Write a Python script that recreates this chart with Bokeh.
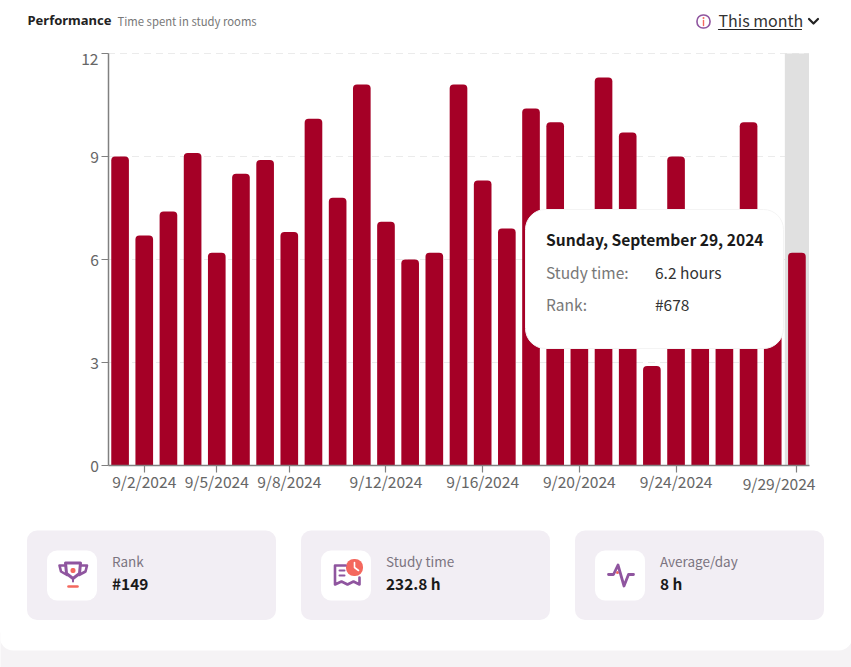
from bokeh.plotting import figure
from bokeh.models import Range1d, FixedTicker, BoxAnnotation, Label
from bokeh.embed import file_html
from bokeh.resources import INLINE

# ---- data ----
days = list(range(1, 30))
hours = [9.0, 6.7, 7.4, 9.1, 6.2, 8.5, 8.9, 6.8, 10.1, 7.8, 11.1, 7.1, 6.0, 6.2, 11.1,
         8.3, 6.9, 10.4, 10.0, 6.6, 11.3, 9.7, 2.9, 9.0, 6.5, 6.4, 10.0, 6.6, 6.2]
highlight_day = [29]
y_max = 12
y_ticks = [0, 3, 6, 9, 12]
x_tick_days = [2, 5, 8, 12, 16, 20, 24, 29]
x_tick_labels = ["9/2/2024", "9/5/2024", "9/8/2024", "9/12/2024", "9/16/2024",
                 "9/20/2024", "9/24/2024", "9/29/2024"]
title = "Performance"
subtitle = "Time spent in study rooms"
period = "This month"
tooltip_title = "Sunday, September 29, 2024"
tooltip_rows = [("Study time:", "6.2 hours"), ("Rank:", "#678")]
cards = [("Rank", "#149"), ("Study time", "232.8 h"), ("Average/day", "8 h")]

FONT = "Noto Sans CJK SC"
BAR = "#a50026"
PURPLE = "#8f559f"
CORAL = "#f4685e"

# page pixel layout
W, H = 851, 667
FL, FR, FT, FB = 107.5, 808.5, 53, 465


def X(px):
    return 0.5 + (px - FL) / (FR - FL) * len(days)


def Y(py):
    return (FB - py) / (FB - FT) * y_max


# the frame fills the page; the axes are pinned to the chart's corner
p = figure(width=W, height=H, output_backend="svg", toolbar_location=None,
           x_range=Range1d(X(0), X(W)), y_range=Range1d(Y(H), Y(0)),
           min_border_left=0, min_border_right=0, min_border_top=0, min_border_bottom=0)
p.outline_line_color = None
p.background_fill_color = "white"
p.border_fill_color = "white"

p.xgrid.visible = False
p.ygrid.visible = False
grid_ticks = [t for t in y_ticks if t > 0]
p.segment(x0=[days[0] - 0.5] * len(grid_ticks), x1=[days[-1] + 0.5] * len(grid_ticks),
          y0=grid_ticks, y1=grid_ticks, line_color="#ebebeb", line_dash="7 5", line_width=1)

p.yaxis.ticker = FixedTicker(ticks=y_ticks)
p.yaxis.major_label_overrides = {12: ""}
p.yaxis.bounds = (0, y_max)
p.yaxis.fixed_location = 0.5
p.xaxis.ticker = FixedTicker(ticks=x_tick_days)
p.xaxis.major_label_overrides = {d: l for d, l in zip(x_tick_days[:-1], x_tick_labels[:-1])} | {x_tick_days[-1]: ""}
p.xaxis.bounds = (0.5, 29.5)
p.xaxis.fixed_location = 0
for ax in (p.xaxis[0], p.yaxis[0]):
    ax.axis_line_color = "#808080"
    ax.axis_line_width = 1.5
    ax.major_tick_line_color = "#808080"
    ax.major_tick_line_width = 1.2
    ax.major_tick_in = 0
    ax.major_tick_out = 7
    ax.minor_tick_line_color = None
    ax.major_label_text_font = FONT
    ax.major_label_text_font_size = "15.6px"
    ax.major_label_text_color = "#666666"
p.yaxis.major_label_standoff = 2
p.xaxis.major_label_standoff = -3

p.vbar(x=highlight_day, top=[y_max], width=1, color="#e0e0e0", line_color=None)
p.vbar(x=days, top=hours, width=0.73, fill_color=BAR, line_color=None, border_radius=(4, 4, 0, 0))


def box(l, r, t, b, color, radius=0, line=None, lw=1):
    p.add_layout(BoxAnnotation(left=X(l), right=X(r), top=Y(t), bottom=Y(b),
                               fill_color=color, fill_alpha=1, line_color=line, line_alpha=1, line_width=lw,
                               border_radius=int(radius)))


def label(text, px, py, size, color, style="normal", font=FONT, align="left"):
    p.add_layout(Label(x=X(px), y=Y(py), text=text,
                       text_font=font, text_font_size=f"{size}px",
                       text_color=color, text_font_style=style, text_baseline="middle", text_align=align))


def line(xs, ys, color=PURPLE, width=2.6):
    p.line([X(a) for a in xs], [Y(b) for b in ys], line_color=color, line_width=width,
           line_cap="round", line_join="round", level="overlay")


def dot(px, py, d, fill, stroke=None, width=1):
    box(px - d / 2, px + d / 2, py - d / 2, py + d / 2, fill, round(d / 2), stroke, width)


# labels shifted off their ticks in the reference
label(str(y_ticks[-1]), 98, 58, 15.6, "#666666", align="right")
label(x_tick_labels[-1], 815, 482, 15.6, "#666666", align="right")

# header
label(title, 27, 19.5, 13, "#222222", "bold", "Noto Sans")
label(subtitle, 117, 20.5, 11.3, "#777777")
dot(703, 21, 13, "white", PURPLE, 1.6)
line([703, 703], [20, 25], CORAL, 1.4)
dot(703, 17.5, 2, CORAL)
label(period, 718, 19.5, 16, "#333333")
line([718, 801], [29, 29], "#222222", 1.2)
line([808.5, 813, 817.5], [18.5, 23, 18.5], "#222222", 2.2)

# tooltip
box(525, 783, 209, 348, "white", 20, "#f4f4f4")
label(tooltip_title, 545.5, 238.5, 15.6, "#1a1a1a", "bold")
for (k, v), py in zip(tooltip_rows, [271.5, 303.5]):
    label(k, 545.5, py, 15.5, "#777777")
    label(v, 654.5, py, 15.5, "#333333")

# cards
for (name, val), cl in zip(cards, [26.5, 300.5, 574.5]):
    box(cl, cl + 249, 530, 619.5, "#f2eef4", 10)
    box(cl + 20, cl + 70, 550, 600, "white", 10)
    label(name, cl + 85, 560.5, 13.5, "#7b7480")
    label(val, cl + 85, 582.5, 15.4, "#1a1a1a", "bold")

# page strip under the white card
box(-1, W + 1, 632, H + 1, "#f5f3f5")
box(-1, W + 1, 621, 650, "white", 14)

# trophy
line([65, 80, 79, 72.5, 66, 65], [562.5, 562.5, 573, 578, 573, 562.5], PURPLE, 3)
line([65, 59, 60.5, 66.5], [565, 565, 571, 574.5])
line([80, 86.5, 85, 78.5], [565, 565, 571, 574.5])
line([72.5, 72.5], [578, 581], PURPLE, 2)
line([68, 77], [586, 586], CORAL, 2.6)
dot(72.5, 570, 5, CORAL)

# book and clock
line([345, 334.5, 334.5, 341, 347, 353, 359, 359], [565, 565, 584, 581, 584, 581, 584, 577])
line([339, 344], [570, 570], PURPLE, 2)
line([339, 344], [575, 575], PURPLE, 2)
dot(354, 567, 17, CORAL)
line([354, 354, 358], [562, 567, 570], "white", 1.6)

# pulse
line([608, 613, 617.5, 623.5, 628, 633], [574, 574, 564.5, 585.5, 574, 574], PURPLE, 2.8)
dot(617, 572, 3, CORAL)

open("out.html", "w").write(file_html(p, INLINE))
